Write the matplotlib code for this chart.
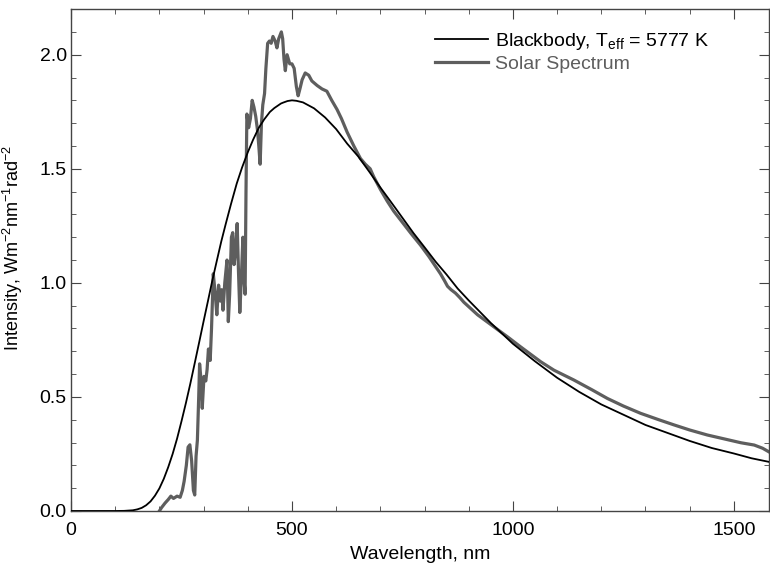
import numpy as np
import matplotlib
matplotlib.use("Agg")
import matplotlib.pyplot as plt
from matplotlib.ticker import MultipleLocator

plt.rcParams["font.family"] = ["Liberation Sans", "DejaVu Sans"]
plt.rcParams["mathtext.fontset"] = "custom"
plt.rcParams["mathtext.rm"] = "Liberation Sans"
plt.rcParams["mathtext.it"] = "Liberation Sans:italic"

# blackbody curve (wavelength nm, intensity)
bb_wave = [0, 100, 120, 140, 150, 160, 170, 180, 190, 200, 210, 220, 230,
           240, 250, 260, 270, 280, 290, 300, 310, 320, 330, 340, 350, 362,
           375, 387, 400, 412, 425, 437, 450, 460, 475, 480, 490, 500, 510,
           525, 550, 575, 600, 625, 650, 675, 700, 725, 750, 775, 800, 825,
           850, 875, 900, 950, 1000, 1050, 1100, 1150, 1200, 1250, 1300,
           1350, 1400, 1450, 1500, 1540, 1580]
bb_int = [0.0, 0.0, 0.0005, 0.003, 0.007, 0.0135, 0.025, 0.042, 0.067, 0.099,
          0.141, 0.192, 0.25, 0.317, 0.393, 0.473, 0.558, 0.648, 0.739,
          0.831, 0.921, 1.012, 1.097, 1.181, 1.257, 1.345, 1.435, 1.505,
          1.572, 1.627, 1.68, 1.716, 1.749, 1.766, 1.786, 1.79, 1.797, 1.80,
          1.798, 1.791, 1.765, 1.725, 1.674, 1.61, 1.554, 1.487, 1.418,
          1.352, 1.285, 1.218, 1.156, 1.093, 1.036, 0.975, 0.923, 0.824,
          0.733, 0.656, 0.584, 0.522, 0.467, 0.422, 0.377, 0.342, 0.307,
          0.276, 0.252, 0.231, 0.215]

sol_wave = [200, 205, 213, 220, 226, 232, 240, 247, 252, 256, 261, 265, 269,
            273, 277, 280, 283, 286, 289, 291, 294, 297, 301, 305, 308, 311,
            315, 318, 322, 326, 330, 334, 338, 341, 344, 348, 353, 356, 359,
            363, 366, 369, 372, 376, 379, 382, 385, 389, 392, 394, 396, 398,
            402, 406, 410, 414, 418, 422, 425, 428, 431, 434, 438, 441, 445,
            449, 453, 457, 462, 466, 470, 476, 479, 482, 485, 489, 495, 500,
            505, 510, 514, 518, 523, 530, 538, 545, 557, 568, 579, 590, 602,
            612, 625, 640, 655, 666, 677, 685, 700, 715, 730, 750, 770, 791,
            810, 836, 845, 852, 860, 870, 880, 889, 920, 957, 990, 1017, 1063,
            1093, 1138, 1180, 1214, 1250, 1289, 1330, 1365, 1400, 1440, 1480,
            1516, 1546, 1565, 1583]
sol_int = [0.0, 0.015, 0.035, 0.05, 0.065, 0.055, 0.065, 0.06, 0.09, 0.13,
           0.2, 0.28, 0.29, 0.22, 0.09, 0.07, 0.24, 0.31, 0.5, 0.645, 0.58,
           0.45, 0.59, 0.57, 0.62, 0.71, 0.66, 0.8, 1.04, 0.96, 0.86, 0.99,
           0.92, 0.97, 0.88, 1.0, 1.1, 0.83, 0.95, 1.2, 1.22, 1.08, 1.13,
           1.26, 1.05, 0.87, 1.0, 1.2, 1.0, 0.95, 1.4, 1.74, 1.68, 1.72, 1.8,
           1.77, 1.73, 1.67, 1.6, 1.52, 1.7, 1.78, 1.83, 1.94, 2.05, 2.06,
           2.05, 2.08, 2.06, 2.03, 2.07, 2.1, 2.07, 1.98, 1.93, 2.0, 1.96,
           1.96, 1.94, 1.86, 1.82, 1.85, 1.89, 1.92, 1.91, 1.885, 1.865,
           1.85, 1.84, 1.80, 1.76, 1.72, 1.66, 1.6, 1.545, 1.52, 1.5, 1.465,
           1.41, 1.36, 1.315, 1.265, 1.215, 1.165, 1.115, 1.04, 1.01, 0.985,
           0.97, 0.955, 0.935, 0.915, 0.86, 0.807, 0.76, 0.72, 0.654, 0.617,
           0.574, 0.53, 0.493, 0.46, 0.428, 0.40, 0.377, 0.355, 0.333, 0.315,
           0.299, 0.289, 0.275, 0.255]

GRAY = "#5e5e5e"

fig = plt.figure(figsize=(7.7, 5.68), dpi=100)
ax = fig.add_axes([0.0922, 0.1004, 0.9068, 0.8836])

ax.plot(bb_wave, bb_int, color="black", lw=1.3,
        label=r"Blackbody, T$_{\mathrm{eff}}$ = 5777 K", zorder=3)
ax.plot(sol_wave, sol_int, color=GRAY, lw=2.3, label="Solar Spectrum",
        solid_joinstyle="round", zorder=2)

ax.set_xlim(0, 1580)
ax.set_ylim(0, 2.2)
ax.xaxis.set_major_locator(MultipleLocator(500))
ax.xaxis.set_minor_locator(MultipleLocator(100))
ax.yaxis.set_major_locator(MultipleLocator(0.5))
ax.yaxis.set_minor_locator(MultipleLocator(0.1))
ax.yaxis.set_major_formatter(plt.FormatStrFormatter("%.1f"))

ax.tick_params(which="both", direction="in", top=True, right=True,
               color="#444444", labelsize=14)
ax.tick_params(axis="x", which="major", length=7.2, pad=8)
ax.tick_params(axis="y", which="major", length=7.2, pad=3)
ax.tick_params(which="minor", length=3.6)
for sp in ax.spines.values():
    sp.set_color("#444444")
    sp.set_linewidth(1.0)

ax.set_xlabel("Wavelength, nm", fontsize=14, labelpad=5)
ax.set_ylabel(r"Intensity, Wm$^{-2}$nm$^{-1}$rad$^{-2}$", fontsize=13)
ax.yaxis.set_label_coords(-0.066, 0.525)

leg = ax.legend(loc="upper left", bbox_to_anchor=(0.522, 0.956),
                frameon=False, fontsize=14, borderpad=0, borderaxespad=0,
                handlelength=2.68, handletextpad=0.38, labelspacing=0.15)
leg.get_texts()[1].set_color(GRAY)

fig.savefig("out.png", dpi=100)
